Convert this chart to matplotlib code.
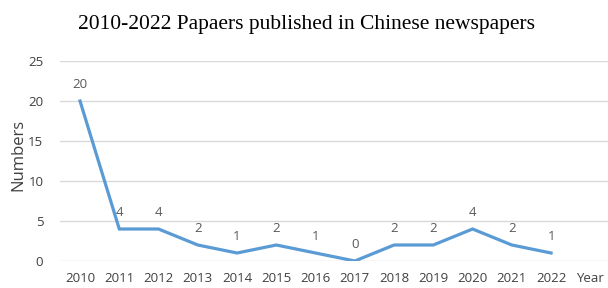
import matplotlib
matplotlib.use("Agg")
import matplotlib.pyplot as plt

years = ["2010", "2011", "2012", "2013", "2014", "2015", "2016",
         "2017", "2018", "2019", "2020", "2021", "2022"]
papers = [20, 4, 4, 2, 1, 2, 1, 0, 2, 2, 4, 2, 1]
tick_labels = years + ["Year"]

fig = plt.figure(figsize=(6.08, 2.88), dpi=100)
ax = fig.add_axes([60 / 608, 27 / 288, 548 / 608, 200 / 288])

xs = list(range(len(years)))
ax.plot(xs, papers, color="#5B9BD5", lw=2.3, solid_joinstyle="miter", zorder=3)
for x, v in zip(xs, papers):
    ax.annotate(str(v), (x, v), xytext=(0, 12), textcoords="offset points",
                ha="center", va="center", fontsize=9.5, color="#595959",
                family="Open Sans")

ax.set_xlim(-0.51, 13.45)
ax.set_ylim(0, 25)
ax.set_yticks([0, 5, 10, 15, 20, 25])
ax.set_xticks(range(len(tick_labels)))
ax.set_xticklabels(tick_labels)
ax.grid(axis="y", color="#d9d9d9", lw=1)
ax.set_axisbelow(True)
for s in ax.spines.values():
    s.set_visible(False)
ax.tick_params(length=0, labelsize=9.5, labelcolor="#404040")
ax.tick_params(axis="x", pad=8)
ax.tick_params(axis="y", pad=12)
for lab in ax.get_xticklabels() + ax.get_yticklabels():
    lab.set_family("Open Sans")

# y label sits a little above the axes centre in the original
fig.text(18 / 608, 1 - 155 / 288, "Numbers", rotation=90, ha="center", va="center",
         fontsize=12, family="Open Sans", color="#404040")
fig.text(307 / 608, 1 - 24 / 288, "2010-2022 Papaers published in Chinese newspapers",
         ha="center", va="center", fontsize=15.5, family="Liberation Serif")

fig.savefig("out.png", dpi=100)
